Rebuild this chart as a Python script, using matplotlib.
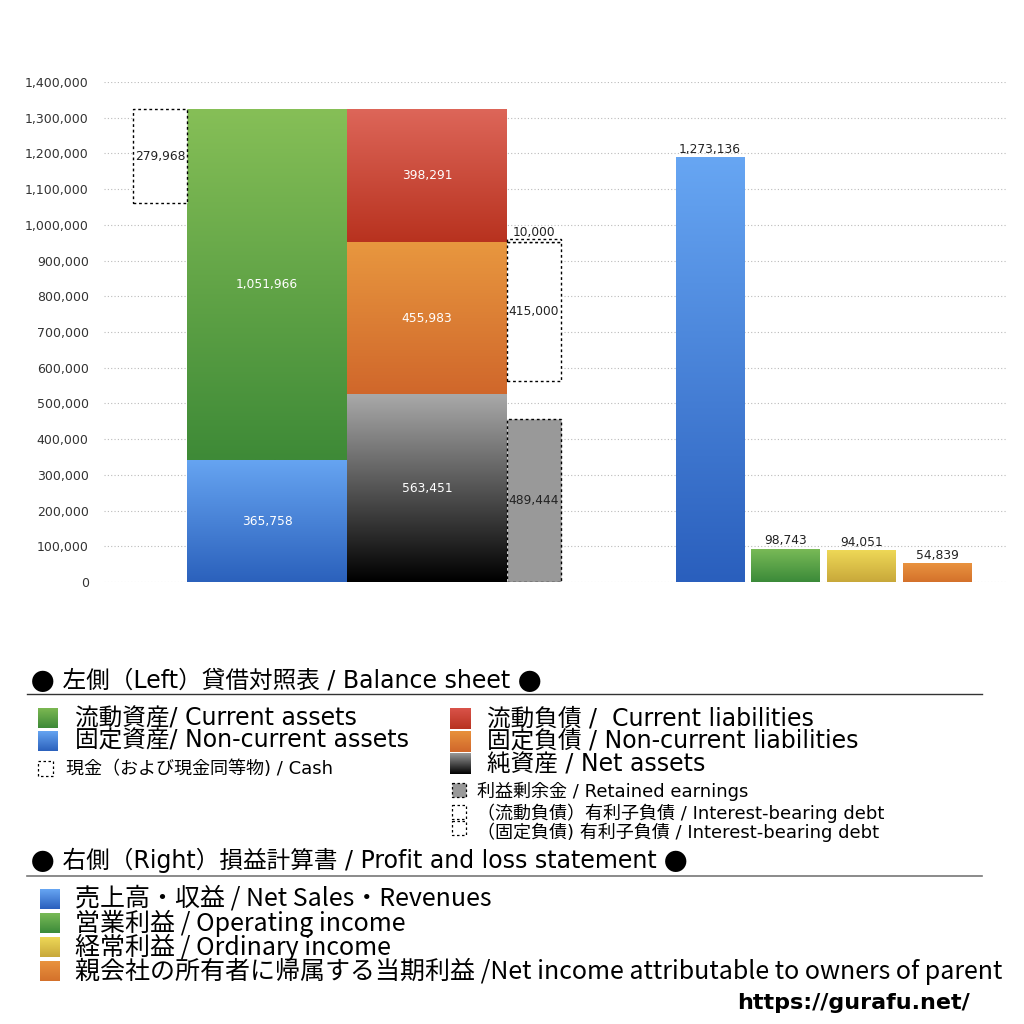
import numpy as np
import matplotlib
matplotlib.use("Agg")
import matplotlib.pyplot as plt
from matplotlib.colors import LinearSegmentedColormap
from matplotlib.patches import Rectangle

plt.rcParams['font.family'] = ['Noto Sans CJK JP', 'DejaVu Sans']

# ---------------- data ----------------
tick_labels = ["0", "100,000", "200,000", "300,000", "400,000", "500,000", "600,000",
               "700,000", "800,000", "900,000", "1,000,000", "1,100,000", "1,200,000",
               "1,300,000", "1,400,000"]
current_assets = 1051966
noncurrent_assets = 365758
cash = 279968
current_liabilities = 398291
noncurrent_liabilities = 455983
net_assets = 563451
retained_earnings = 489444
debt_current = 10000
debt_noncurrent = 415000

pl_names = ["売上高・収益", "営業利益", "経常利益", "親会社の所有者に帰属する当期利益"]
pl_values = [1273136, 98743, 94051, 54839]

# ---------------- layout / style ----------------
Y_TOP = 1.5e6
W, H = 1024, 1024
NUMF = ["DejaVu Sans"]
WIDE = ["DejaVu Sans", "Noto Sans CJK JP"]
CJK = ["Noto Sans CJK JP", "DejaVu Sans"]

fig = plt.figure(figsize=(W / 100, H / 100), dpi=100)
ax = fig.add_axes([104 / W, 1 - 582 / H, 903 / W, 500 / H])
ax.set_xlim(0, 903)
ax.set_ylim(0, Y_TOP)


def grad_img(a, x0, x1, y0, y1, ctop, cbot, z=2):
    cmap = LinearSegmentedColormap.from_list("g", [cbot, ctop])
    grad = np.linspace(0, 1, 256).reshape(-1, 1)
    a.imshow(grad, extent=(x0, x1, y0, y1), origin="lower", cmap=cmap,
             aspect="auto", zorder=z, interpolation="bilinear")


def grad_bar(xc, w, bottom, height, ctop, cbot):
    grad_img(ax, xc - w / 2, xc + w / 2, bottom, bottom + height, ctop, cbot)


DASH = (0, (2, 2))


def dashed_box(xc, w, bottom, height, face="white"):
    ax.add_patch(Rectangle((xc - w / 2, bottom), w, height, facecolor=face,
                           edgecolor="black", linestyle=DASH, linewidth=1, zorder=3))


lbl_kw = dict(ha="center", va="center", fontsize=8.8, zorder=5, family=NUMF)

# Assets column
xa, wa = 163, 160
grad_bar(xa, wa, 0, noncurrent_assets, "#66a4f1", "#2b61bc")
grad_bar(xa, wa, noncurrent_assets, current_assets, "#86bf57", "#3e8a37")
ax.text(xa, noncurrent_assets / 2, f"{noncurrent_assets:,}", color="white", **lbl_kw)
ax.text(xa, noncurrent_assets + current_assets / 2, f"{current_assets:,}", color="white", **lbl_kw)

# Cash box (attached to top of assets)
total_assets = current_assets + noncurrent_assets
xc_, wc_ = 56, 54
dashed_box(xc_, wc_, total_assets - cash, cash)
ax.text(xc_, total_assets - cash / 2, f"{cash:,}", color="#222222", **lbl_kw)

# Liabilities / net assets column
xl, wl = 323, 160
grad_bar(xl, wl, 0, net_assets, "#a9a9a9", "#000000")
grad_bar(xl, wl, net_assets, noncurrent_liabilities, "#e8973f", "#d0672b")
grad_bar(xl, wl, net_assets + noncurrent_liabilities, current_liabilities, "#dd6659", "#b8321f")
ax.text(xl, net_assets / 2, f"{net_assets:,}", color="white", **lbl_kw)
ax.text(xl, net_assets + noncurrent_liabilities / 2, f"{noncurrent_liabilities:,}", color="white", **lbl_kw)
ax.text(xl, net_assets + noncurrent_liabilities + current_liabilities / 2,
        f"{current_liabilities:,}", color="white", **lbl_kw)

# Retained earnings and interest-bearing debt boxes
xd, wd = 430, 54
dashed_box(xd, wd, 0, retained_earnings, face="#999999")
ax.text(xd, retained_earnings / 2, f"{retained_earnings:,}", color="#222222", **lbl_kw)
debt_top = net_assets + noncurrent_liabilities
dashed_box(xd, wd, debt_top - debt_noncurrent, debt_noncurrent)
dashed_box(xd, wd, debt_top, debt_current)
ax.text(xd, debt_top - debt_noncurrent / 2, f"{debt_noncurrent:,}", color="#222222", **lbl_kw)
ax.text(xd, debt_top + debt_current, f"{debt_current:,}", color="#222222",
        ha="center", va="bottom", fontsize=8.8, zorder=5, family=NUMF)

# Profit and loss bars
pl_x = [606, 681.5, 757.5, 833.5]
pl_w = 69
pl_cols = [("#67a6f3", "#2a5fbd"), ("#79ba57", "#3b8a39"),
           ("#eed857", "#c8a83a"), ("#e9933f", "#d4712b")]
for x, v, (ct, cb) in zip(pl_x, pl_values, pl_cols):
    grad_bar(x, pl_w, 0, v, ct, cb)
    ax.annotate(f"{v:,}", (x, v), xytext=(0, 1.5), textcoords="offset points",
                ha="center", va="bottom", fontsize=8.8, color="#222222", zorder=5,
                family=NUMF)

ax.set_xlim(0, 903)
ax.set_ylim(0, Y_TOP)
ax.set_yticks(np.linspace(0, Y_TOP, len(tick_labels)))
ax.set_yticklabels(tick_labels, fontsize=9, color="#333333", family=NUMF)
ax.tick_params(axis="y", length=0, pad=11)
ax.set_xticks([])
for s in ax.spines.values():
    s.set_visible(False)
ax.grid(axis="y", color="#bbbbbb", linestyle=(0, (1, 2)), linewidth=0.8, zorder=0)
ax.set_axisbelow(True)

# ---------------- legend overlay (pixel coords) ----------------
ov = fig.add_axes([0, 0, 1, 1], zorder=10)
ov.set_xlim(0, W)
ov.set_ylim(H, 0)
ov.axis("off")
ov.patch.set_alpha(0)


def sq(x, y, s, ctop, cbot):
    grad_img(ov, x, x + s, y + s, y, ctop, cbot, z=3)


def dsq(x, y, s, face="white"):
    ov.add_patch(Rectangle((x, y), s, s, facecolor=face, edgecolor="black",
                           linestyle=DASH, linewidth=0.9, zorder=3))


def header(x, y, middle, fs):
    mid = ov.text(x, y, middle, family=WIDE, fontsize=fs, va="center", ha="left")
    ov.annotate("●", xy=(0, 0.5), xycoords=mid, xytext=(0, -2.5),
                textcoords="offset points", ha="right", va="center",
                fontsize=fs, family=CJK)
    ov.annotate("●", xy=(1, 0.5), xycoords=mid, xytext=(0, -2.5),
                textcoords="offset points", ha="left", va="center",
                fontsize=fs, family=CJK)


header(55, 680, " 左側（Left）貸借対照表 / Balance sheet ", 17)
ov.plot([27, 982], [694, 694], color="#333333", linewidth=1)

big = 17
small = 13
sq(38, 708, 20, "#7cb852", "#3d8937")
ov.text(75, 718, "流動資産/ Current assets", fontsize=big, va="center", family=WIDE)
sq(38, 731, 20, "#66a4f1", "#2b61bc")
ov.text(75, 741, "固定資産/ Non-current assets", fontsize=big, va="center", family=WIDE)
dsq(38, 761, 15)
ov.text(66, 769, "現金（および現金同等物) / Cash", fontsize=small, va="center", family=WIDE)

sq(450, 708, 21, "#d9534a", "#b8321f")
ov.text(487, 718, "流動負債 /  Current liabilities", fontsize=big, va="center", family=WIDE)
sq(450, 731, 21, "#e8913c", "#d0672b")
ov.text(487, 741, "固定負債 / Non-current liabilities", fontsize=big, va="center", family=WIDE)
sq(450, 753, 21, "#9a9a9a", "#000000")
ov.text(487, 765, "純資産 / Net assets", fontsize=big, va="center", family=WIDE)
dsq(452, 783, 14, face="#999999")
ov.text(477, 791, "利益剰余金 / Retained earnings", fontsize=small, va="center", family=WIDE)
dsq(452, 805, 14)
ov.text(477, 813, "（流動負債）有利子負債 / Interest-bearing debt", fontsize=small, va="center", family=WIDE)
dsq(452, 821, 14)
ov.text(477, 832, "（固定負債) 有利子負債 / Interest-bearing debt", fontsize=small, va="center", family=WIDE)

header(55, 860, " 右側（Right）損益計算書 / Profit and loss statement ", 17)
ov.plot([27, 982], [876, 876], color="#777777", linewidth=1.2)

pl_leg = [
    "売上高・収益 / Net Sales・Revenues",
    "営業利益 / Operating income",
    "経常利益 / Ordinary income",
    "親会社の所有者に帰属する当期利益 /Net income attributable to owners of parent",
]
for i, (txt, (ct, cb)) in enumerate(zip(pl_leg, pl_cols)):
    yy = 889 + i * 24
    sq(40, yy, 20, ct, cb)
    ov.text(75, yy + 10, txt, fontsize=18, va="center", family=CJK)

ov.text(970, 1003, "https://gurafu.net/", fontsize=16, fontweight="bold",
        ha="right", va="center", family=["DejaVu Sans"])

fig.savefig("out.png", dpi=100)
